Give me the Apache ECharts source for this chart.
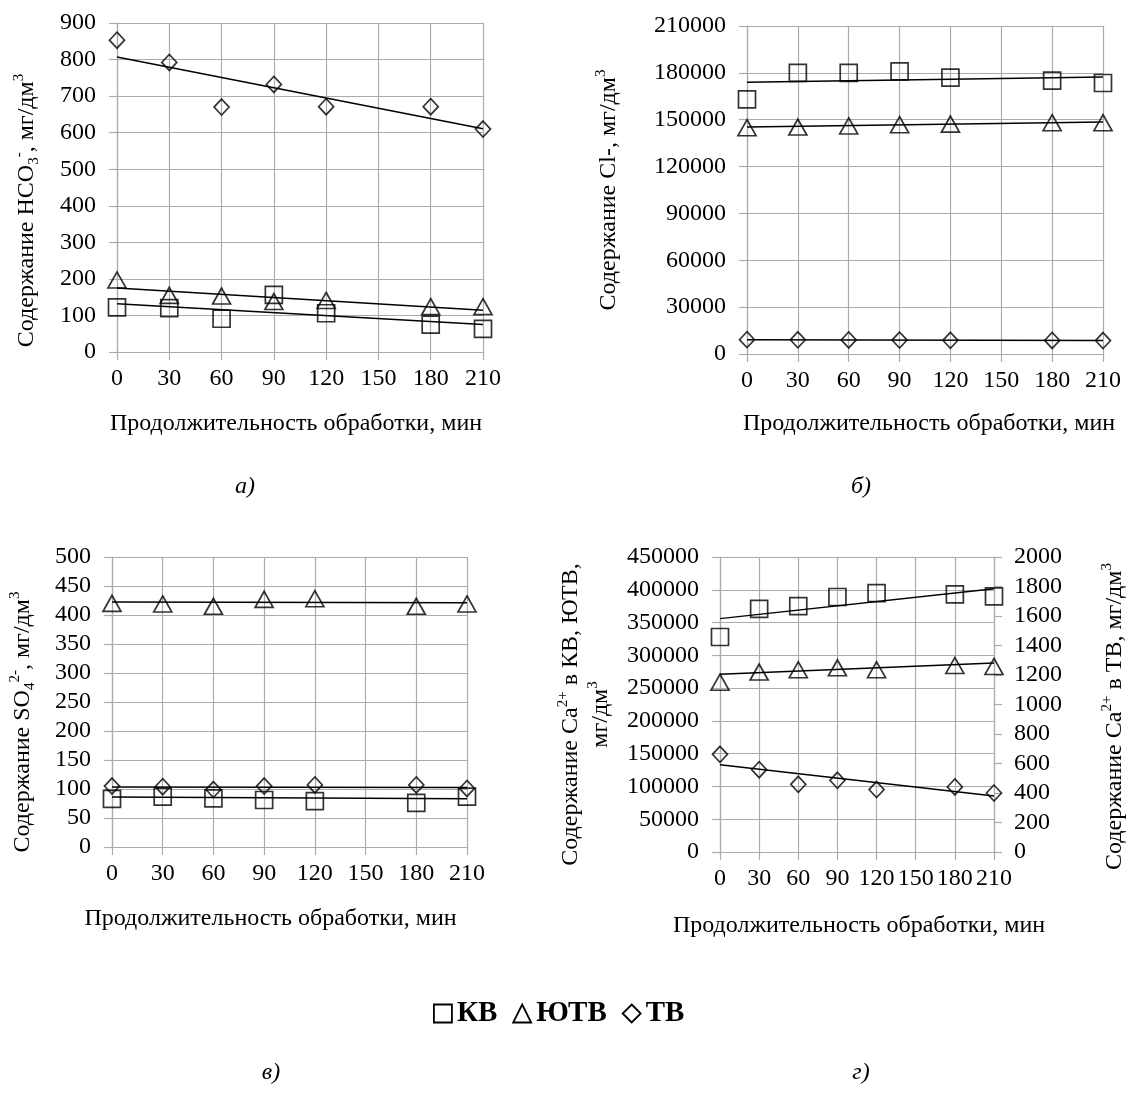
<!DOCTYPE html>
<html><head><meta charset="utf-8">
<script src="https://cdn.jsdelivr.net/npm/echarts@6/dist/echarts.min.js"></script>
<style>html,body{margin:0;padding:0;background:#fff}#c{width:1131px;height:1101px}</style>
</head><body><div id="c"></div>
<script>
// ---- data ----
const timeMin = [0, 30, 60, 90, 120, 180, 210];
const trendX = [0, 210];
const seriesNames = ['КВ', 'ЮТВ', 'ТВ'];

// а) HCO3-
const hco3KV  = [122, 120, 91, 156, 106, 75, 63];
const hco3UTV = [197, 155, 153, 138, 141, 124, 124];
const hco3TV  = [853, 792, 670, 732, 671, 671, 610];
const hco3TrendKV  = [132, 75];
const hco3TrendUTV = [175, 114];
const hco3TrendTV  = [807, 611];

// б) Cl-
const clKV  = [163000, 180000, 180000, 181000, 177000, 175000, 173500];
const clUTV = [144900, 145300, 146000, 146800, 147200, 148100, 148100];
const clTV  = [9200, 9100, 9000, 8900, 8800, 8700, 8600];
const clTrendKV  = [174000, 177400];
const clTrendUTV = [145300, 148500];
const clTrendTV  = [9200, 8600];

// в) SO4 2-
const so4KV  = [83, 87, 84, 81, 79, 76, 87];
const so4UTV = [420, 419, 415, 427, 428, 415, 419];
const so4TV  = [105, 104, 99, 105, 107, 107, 101];
const so4TrendKV  = [86, 83];
const so4TrendUTV = [422.6, 421];
const so4TrendTV  = [103.5, 102.5];

// г) Ca2+ (КВ, ЮТВ on left axis; ТВ on right axis)
const caKV  = [328000, 371000, 375000, 389000, 395000, 393000, 390000];
const caUTV = [259000, 274500, 278000, 281000, 278000, 284500, 283000];
const caTV  = [662, 558, 459, 486, 423, 441, 400];
const caTrendKV  = [356000, 401700];
const caTrendUTV = [271000, 288300];
const caTrendTV  = [592, 380];

const xTitle = 'Продолжительность обработки, мин';
const captions = ['а)', 'б)', 'в)', 'г)'];

// ---- styling ----
const FONT = '"Liberation Serif", "Times New Roman", serif';
const GRID = '#ababab';
const TICK_FS = 24;
const TITLE_FS = 24;
const rich = {
  sup: { fontSize: 15, fontFamily: FONT, color: '#000', verticalAlign: 'top', lineHeight: 30, padding: [0, 0, 4, 0] },
  sub: { fontSize: 15, fontFamily: FONT, color: '#000', verticalAlign: 'bottom', lineHeight: 30, padding: [5, 0, 0, 0] }
};

function xAxis(gi, nameGap, shift) {
  return {
    gridIndex: gi, type: 'value', min: 0, max: 210, interval: 30,
    axisLine: { show: true, lineStyle: { color: GRID, width: 1.2 } },
    axisTick: { show: true, length: 8, lineStyle: { color: GRID, width: 1.2 } },
    splitLine: { show: true, lineStyle: { color: GRID, width: 1.2 } },
    axisLabel: { margin: 15, fontFamily: FONT, fontSize: TICK_FS, color: '#000' },
    name: xTitle, nameLocation: 'middle', nameGap: nameGap,
    nameTextStyle: { fontFamily: FONT, fontSize: TITLE_FS, color: '#000',
      padding: shift < 0 ? [0, -2 * shift, 0, 0] : [0, 0, 0, 2 * shift] }
  };
}
function yAxis(gi, max, interval, name, nameGap, down, opts) {
  opts = opts || {};
  return Object.assign({
    gridIndex: gi, type: 'value', min: 0, max: max, interval: interval,
    axisLine: { show: true, lineStyle: { color: GRID, width: 1.2 } },
    axisTick: { show: true, length: 8, lineStyle: { color: GRID, width: 1.2 } },
    splitLine: { show: true, lineStyle: { color: GRID, width: 1.2 } },
    axisLabel: { margin: 21, fontFamily: FONT, fontSize: TICK_FS, color: '#000', formatter: v => String(v) },
    name: name, nameLocation: 'middle', nameGap: nameGap, nameRotate: 90,
    nameTextStyle: { fontFamily: FONT, fontSize: TITLE_FS, color: '#000', lineHeight: 27, rich: rich,
      padding: [0, 2 * down, 0, 0] }
  }, opts);
}

const SYM = {
  'КВ':  { symbol: 'rect', size: [17, 17] },
  'ЮТВ': { symbol: 'triangle', size: [18, 16] },
  'ТВ':  { symbol: 'diamond', size: [15, 16] }
};
function pts(data) { return timeMin.map((t, i) => [t, data[i]]); }
function scatter(name, xi, yi, data) {
  return {
    type: 'scatter', name: name, xAxisIndex: xi, yAxisIndex: yi, data: pts(data),
    symbol: SYM[name].symbol, symbolSize: SYM[name].size,
    itemStyle: { color: 'rgba(0,0,0,0)', borderColor: '#000', borderWidth: 1.7 },
    z: 3
  };
}
function trend(name, xi, yi, ends) {
  return {
    type: 'line', name: name, xAxisIndex: xi, yAxisIndex: yi,
    data: trendX.map((t, i) => [t, ends[i]]),
    symbol: 'none', lineStyle: { color: '#000', width: 1.5 }, z: 2
  };
}

const option = {
  animation: false,
  backgroundColor: '#fff',
  grid: [
    { left: 117, top: 23, width: 366, height: 329 },
    { left: 747, top: 26, width: 356, height: 328 },
    { left: 112, top: 557, width: 355, height: 290 },
    { left: 720, top: 557, width: 285, height: 295 }
  ],
  xAxis: [ xAxis(0, 60, -4), xAxis(1, 58, 4), xAxis(2, 60, -19), xAxis(3, 62, 2) ],
  yAxis: [
    yAxis(0, 900, 100, 'Содержание HCO{sub|3}{sup|-}, мг/дм{sup|3}', 75, 23),
    yAxis(1, 210000, 30000, 'Содержание Cl-, мг/дм{sup|3}', 123, 0),
    yAxis(2, 500, 50, 'Содержание SO{sub|4}{sup|2-}, мг/дм{sup|3}', 74, 20),
    yAxis(3, 450000, 50000, 'Содержание Ca{sup|2+} в КВ, ЮТВ,\nмг/дм{sup|3}', 104, 10),
    yAxis(3, 2000, 200, 'Содержание Ca{sup|2+} в ТВ, мг/дм{sup|3}', 106, 12,
      { position: 'right', splitLine: { show: false },
        axisLabel: { margin: 20, fontFamily: FONT, fontSize: TICK_FS, color: '#000', formatter: v => String(v) } })
  ],
  legend: {
    left: 428, top: 994, itemGap: 15, itemWidth: 18, itemHeight: 18,
    textStyle: { fontFamily: FONT, fontWeight: 'bold', fontSize: 29, color: '#000' },
    data: [
      { name: 'КВ', icon: 'rect', itemStyle: { color: 'rgba(0,0,0,0)', borderColor: '#000', borderWidth: 1.8 } },
      { name: 'ЮТВ', icon: 'triangle', itemStyle: { color: 'rgba(0,0,0,0)', borderColor: '#000', borderWidth: 1.8 } },
      { name: 'ТВ', icon: 'diamond', itemStyle: { color: 'rgba(0,0,0,0)', borderColor: '#000', borderWidth: 1.8 } }
    ]
  },
  graphic: [
    { type: 'text', x: 245, y: 487, style: { text: captions[0], align: 'center', verticalAlign: 'middle', font: 'italic 24px ' + FONT, fill: '#000' } },
    { type: 'text', x: 861, y: 487, style: { text: captions[1], align: 'center', verticalAlign: 'middle', font: 'italic 24px ' + FONT, fill: '#000' } },
    { type: 'text', x: 271, y: 1073, style: { text: captions[2], align: 'center', verticalAlign: 'middle', font: 'italic 24px ' + FONT, fill: '#000' } },
    { type: 'text', x: 861, y: 1073, style: { text: captions[3], align: 'center', verticalAlign: 'middle', font: 'italic 24px ' + FONT, fill: '#000' } }
  ],
  series: [
    trend('КВ', 0, 0, hco3TrendKV), trend('ЮТВ', 0, 0, hco3TrendUTV), trend('ТВ', 0, 0, hco3TrendTV),
    scatter('КВ', 0, 0, hco3KV), scatter('ЮТВ', 0, 0, hco3UTV), scatter('ТВ', 0, 0, hco3TV),

    trend('КВ', 1, 1, clTrendKV), trend('ЮТВ', 1, 1, clTrendUTV), trend('ТВ', 1, 1, clTrendTV),
    scatter('КВ', 1, 1, clKV), scatter('ЮТВ', 1, 1, clUTV), scatter('ТВ', 1, 1, clTV),

    trend('КВ', 2, 2, so4TrendKV), trend('ЮТВ', 2, 2, so4TrendUTV), trend('ТВ', 2, 2, so4TrendTV),
    scatter('КВ', 2, 2, so4KV), scatter('ЮТВ', 2, 2, so4UTV), scatter('ТВ', 2, 2, so4TV),

    trend('КВ', 3, 3, caTrendKV), trend('ЮТВ', 3, 3, caTrendUTV), trend('ТВ', 3, 4, caTrendTV),
    scatter('КВ', 3, 3, caKV), scatter('ЮТВ', 3, 3, caUTV), scatter('ТВ', 3, 4, caTV)
  ]
};

const chart = echarts.init(document.getElementById('c'), null, { renderer: 'canvas' });
chart.setOption(option);
</script>
</body></html>
